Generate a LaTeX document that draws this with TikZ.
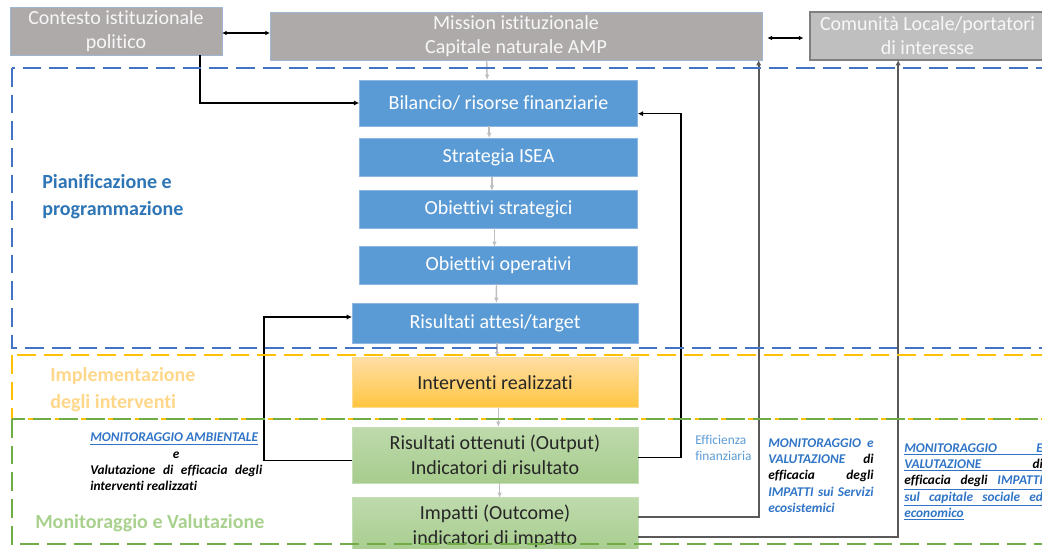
\documentclass[tikz,border=0pt]{standalone}
\usepackage{fontspec}
\setmainfont{Carlito}[Ligatures=NoCommon]
\usetikzlibrary{arrows.meta}
\definecolor{ctxgray}{HTML}{AEAAAA}
\definecolor{ctxedge}{HTML}{9FB6D3}
\definecolor{comgray}{HTML}{BFBFBF}
\definecolor{comedge}{HTML}{7F7F7F}
\definecolor{planblue}{HTML}{5B9BD5}
\definecolor{planedge}{HTML}{8DB6E2}
\definecolor{frameblue}{HTML}{4472C4}
\definecolor{frameyellow}{HTML}{FFC000}
\definecolor{framegreen}{HTML}{70AD47}
\definecolor{labelblue}{HTML}{2E75B6}
\definecolor{labelyellow}{HTML}{FFD78A}
\definecolor{labelgreen}{HTML}{A9D18E}
\definecolor{monblue}{HTML}{2F74C6}
\definecolor{finblue}{HTML}{5B9BD5}
\definecolor{flowgray}{HTML}{BFBFBF}
\definecolor{linkgray}{HTML}{595959}
\definecolor{textdark}{HTML}{262626}

\begin{document}
\begin{tikzpicture}[x=0.75pt,y=-0.75pt,
    box/.style={rectangle, inner sep=0pt, outer sep=0pt, align=center},
    ctxbox/.style={box, fill=ctxgray, draw=ctxedge, line width=0.6pt, text=white!94!gray, font=\fontsize{15}{18}\selectfont},
    combox/.style={box, fill=comgray, draw=comedge, line width=1.2pt, text=white!94!gray, font=\fontsize{15}{18}\selectfont},
    planbox/.style={box, fill=planblue, draw=planedge, line width=0.6pt, text=white, font=\fontsize{15}{18}\selectfont, minimum width=209pt},
    implbox/.style={box, top color=yellow!25!orange!35!white, bottom color=yellow!40!orange!75!white, draw=yellow!40!orange!40!white, line width=0.6pt, text=textdark, font=\fontsize{15}{19}\selectfont},
    monbox/.style={box, top color=framegreen!45!white, bottom color=framegreen!62!white, draw=framegreen!40!white, line width=0.6pt, text=textdark, font=\fontsize{15}{19}\selectfont},
    section/.style={anchor=west, align=left, inner sep=0pt, font=\fontsize{15}{20}\selectfont\bfseries},
    smalltxt/.style={anchor=west, align=justify, inner sep=0pt, font=\fontsize{10}{12.2}\selectfont\bfseries\itshape},
    flow/.style={flowgray, line width=1.1pt, -{Latex[length=4pt,width=3.5pt]}},
    link/.style={black, line width=1pt, -{Latex[length=4pt,width=4pt]}},
    uplink/.style={linkgray, line width=1.3pt, -{Latex[length=4pt,width=4pt]}},
    twoway/.style={black, line width=0.8pt, {Latex[length=3.5pt,width=3.5pt]}-{Latex[length=3.5pt,width=3.5pt]}},
    frame/.style={line width=1.5pt, dash pattern=on 14pt off 6pt}]

    \path[use as bounding box] (0,0) rectangle (1042,549);
    \clip (0,0) rectangle (1042,549);

    % top row
    \node[ctxbox, minimum width=159pt, minimum height=36pt] (contesto) at (116,31) {Contesto istituzionale\\politico};
    \node[ctxbox, minimum width=369pt, minimum height=36pt] (mission) at (516,36) {Mission istituzionale\\Capitale naturale AMP};
    \node[combox, minimum width=176pt, minimum height=36pt] (comunita) at (927.5,36) {Comunità Locale/portatori\\di interesse};

    % planning column
    \node[planbox, minimum height=34.5pt] (bilancio) at (498.5,103) {Bilancio/ risorse finanziarie};
    \node[planbox, minimum height=29pt] (strategia) at (498.5,157.5) {Strategia ISEA};
    \node[planbox, minimum height=28pt] (strategici) at (498.5,209.5) {Obiettivi strategici};
    \node[planbox, minimum height=28pt] (operativi) at (498.5,265.5) {Obiettivi operativi};
    \node[planbox, minimum width=214.5pt, minimum height=30pt] (attesi) at (495,323) {Risultati attesi/target};

    % implementation and monitoring
    \node[implbox, minimum width=214.5pt, minimum height=38pt] (interventi) at (495,382.5) {Interventi realizzati};
    \node[monbox, minimum width=214.5pt, minimum height=42pt] (ottenuti) at (495,455) {Risultati ottenuti (Output)\\Indicatori di risultato};
    \node[monbox, minimum width=214.5pt, minimum height=43pt] (impatti) at (495,526.5) {Impatti (Outcome)\\indicatori di impatto};

    % vertical flow
    \draw[flow] ([xshift=-22pt]mission.south) -- ([xshift=-8.5pt]bilancio.north);
    \draw[flow] ([xshift=-7pt]bilancio.south) -- ([xshift=-7pt]strategia.north);
    \draw[flow] ([xshift=-5pt]strategia.south) -- ([xshift=-5pt]strategici.north);
    \draw[flow] ([xshift=-3pt]strategici.south) -- ([xshift=-3pt]operativi.north);
    \draw[flow] ([xshift=-1.5pt]operativi.south) -- ([xshift=1pt]attesi.north);
    \draw[flow] ([xshift=1.5pt]attesi.south) -- ([xshift=1.5pt]interventi.north);
    \draw[flow] ([xshift=2.5pt]interventi.south) -- ([xshift=2.5pt]ottenuti.north);
    \draw[flow] ([xshift=3.5pt]ottenuti.south) -- ([xshift=3.5pt]impatti.north);

    % top links
    \draw[twoway] ([yshift=-1.5pt]contesto.east) -- ([yshift=-1.5pt]contesto.east -| mission.west);
    \draw[twoway, shorten <=4pt, shorten >=5pt] ([yshift=-1.5pt]mission.east) -- ([yshift=-1.5pt]comunita.west);

    % feedback links
    \draw[link] ([xshift=63pt]contesto.south) |- (bilancio.west);
    \draw[link] ([yshift=-2pt]ottenuti.east) -- ++(43,0) |- ([yshift=-8pt]bilancio.east);
    \draw[link] ([yshift=-4pt]ottenuti.west) -- ++(-88,0) |- ([yshift=4.5pt]attesi.west);
    \draw[uplink] ([yshift=7pt]impatti.east) -| ([xshift=182pt]mission.south);
    \draw[uplink] ([yshift=-8pt]impatti.east) -| ([xshift=-22pt]comunita.south);

    % phase labels
    \node[section, text=labelblue] (lblplan) at (42,197) {Pianificazione e\\programmazione};
    \node[section, text=labelyellow] (lblimpl) at (50,389.5) {Implementazione\\degli interventi};
    \node[section, text=labelgreen] (lblmon) at (35,523) {Monitoraggio e Valutazione};

    % monitoring notes
    \node[smalltxt, text width=129pt] (txtambient) at (90,462) {%
        {\color{monblue}\underline{MONITORAGGIO AMBIENTALE}}\\
        \makebox[\linewidth]{e}\\
        \makebox[\linewidth][s]{Valutazione di efficacia degli}\\
        interventi realizzati};
    \node[anchor=west, align=left, inner sep=0pt, text=finblue, font=\fontsize{10}{12}\selectfont] (txtfin) at (695,448) {Efficienza\\finanziaria};
    \node[smalltxt, text width=79pt, text=monblue] (txtservizi) at (768,475.5) {%
        \makebox[\linewidth][s]{MONITORAGGIO e}\\
        \makebox[\linewidth][s]{VALUTAZIONE \textcolor{black}{di}}\\
        \makebox[\linewidth][s]{\textcolor{black}{efficacia degli}}\\
        \makebox[\linewidth][s]{IMPATTI sui Servizi}\\
        ecosistemici};
    \node[smalltxt, text width=104pt, text=monblue] (txtsociale) at (904,482) {%
        \underline{\makebox[\linewidth][s]{MONITORAGGIO E}}\\
        \underline{\makebox[\linewidth][s]{VALUTAZIONE \textcolor{black}{di}}}\\
        \underline{\makebox[\linewidth][s]{\textcolor{black}{efficacia degli} IMPATTI}}\\
        \underline{\makebox[\linewidth][s]{sul capitale sociale ed}}\\
        \underline{economico}};

    % phase frames
    \draw[frame, frameblue] (12,68) rectangle (1080,348);
    \draw[frame, frameyellow] (12,355) rectangle (1080,419);
    \draw[frame, framegreen] (12,419) rectangle (1080,544);
\end{tikzpicture}
\end{document}
